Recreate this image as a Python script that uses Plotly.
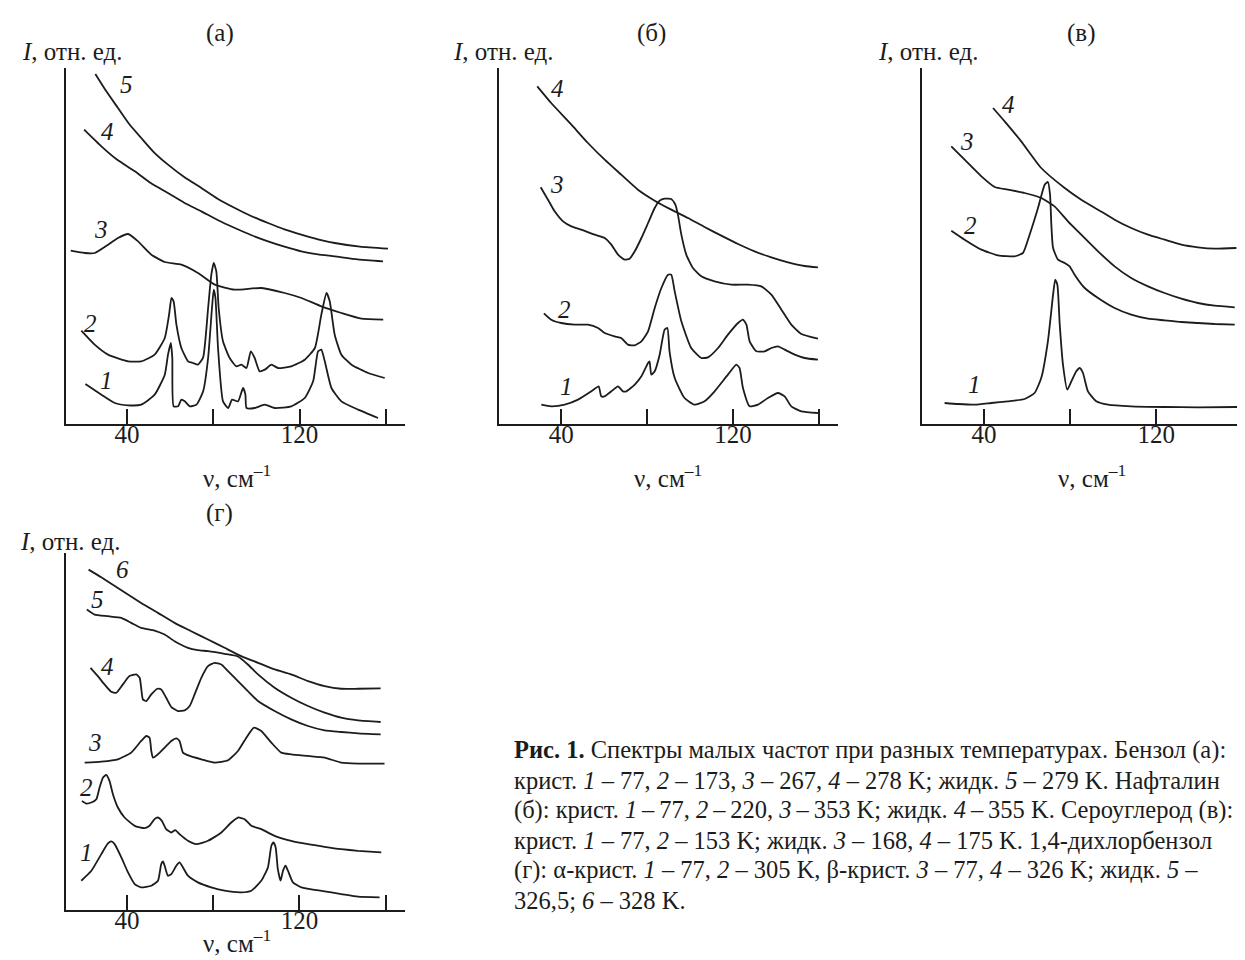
import plotly.graph_objects as go

W, H = 1245, 960
FONT = "Liberation Serif"
INK = "#1c1c1c"

# ---------------- Panel (а): benzene ----------------
a1_nu = [20.7, 28.1, 34.3, 40.5, 46.6, 52.8, 57.5, 59.0, 60.3, 61.0, 61.6, 63.7, 65.2, 66.8, 69.1, 72.2, 75.3, 77.6,
         79.4, 80.2, 81.0, 82.2, 84.5, 86.9, 88.7, 91.5, 93.8, 94.9, 95.4, 99.2, 103.9, 108.5, 116.2, 122.4, 126.3,
         128.6, 130.1, 131.7, 134.8, 139.4, 147.2, 156.4]
a1_I = [120, 88, 63, 56, 58, 88, 148, 208, 243, 198, 53, 53, 73, 68, 53, 58, 98, 198,
        348, 403, 378, 228, 68, 48, 73, 68, 108, 88, 48, 48, 58, 48, 53, 78, 128,
        218, 223, 188, 108, 68, 43, 18]
a2_nu = [18.8, 25.0, 31.2, 40.5, 46.6, 52.8, 57.5, 59.5, 60.6, 61.6, 62.9, 65.2, 68.3, 70.6, 72.9, 75.3, 77.6, 79.1,
         80.2, 81.4, 82.5, 84.5, 87.6, 90.7, 93.0, 95.4, 97.4, 99.2, 101.5, 103.9, 107.0, 110.0, 116.2, 122.4, 127.1,
         130.1, 132.5, 134.0, 136.3, 139.4, 144.1, 151.8, 159.5]
a2_I = [280, 238, 208, 188, 188, 208, 258, 328, 378, 368, 298, 228, 188, 183, 178, 200, 348, 448,
        483, 458, 348, 248, 198, 173, 178, 168, 218, 198, 158, 163, 178, 168, 173, 193, 228,
        328, 393, 368, 268, 208, 178, 153, 138]
a3_nu = [13.9, 20.4, 25.0, 31.2, 35.8, 40.5, 45.1, 51.3, 57.5, 65.2, 72.9, 80.7, 89.9, 102.3, 113.1, 120.9, 130.1,
         139.4, 148.7, 158.8]
a3_I = [520, 513, 513, 538, 558, 570, 548, 508, 486, 478, 453, 418, 403, 408, 393, 378, 353, 333, 316, 313]
a4_nu = [20.1, 28.1, 35.0, 43.6, 51.0, 59.0, 66.5, 74.5, 82.0, 90.0, 97.5, 105.4, 113.0, 120.8, 128.5, 136.3, 147.0,
         158.7]
a4_I = [883, 833, 795, 758, 723, 693, 664, 638, 612, 588, 567, 548, 532, 518, 509, 503, 494, 488]
a5_nu = [25.3, 30.4, 35.8, 41.0, 46.6, 52.5, 59.0, 66.5, 74.5, 82.0, 90.0, 97.5, 105.4, 113.0, 120.8, 128.5, 136.3,
         148.0, 161.0]
a5_I = [1050, 998, 948, 900, 858, 815, 778, 741, 708, 676, 648, 624, 603, 584, 568, 554, 543, 532, 526]

# ---------------- Panel (б): naphthalene ----------------
b1_nu = [30.7, 35.3, 41.6, 47.8, 54.0, 57.4, 58.6, 60.2, 63.3, 66.4, 68.7, 70.3, 74.2, 77.3, 80.4, 81.1, 81.9, 83.5,
         85.8, 88.1, 89.4, 90.4, 92.8, 97.4, 102.1, 106.7, 111.4, 117.6, 121.5, 123.0, 124.6, 127.7, 131.6, 136.2,
         140.9, 144.0, 147.1, 151.8, 159.5]
b1_I = [58, 53, 58, 73, 98, 113, 83, 83, 98, 113, 98, 98, 118, 143, 183, 188, 148, 158,
        208, 283, 288, 218, 138, 78, 58, 68, 98, 148, 178, 168, 108, 53, 58, 78,
        93, 83, 53, 38, 33]
b2_nu = [31.9, 35.3, 40.0, 46.2, 52.4, 57.1, 60.2, 64.8, 67.9, 71.0, 74.2, 77.3, 80.4, 83.5, 86.6, 89.7, 91.2, 92.8,
         95.9, 100.5, 105.2, 108.3, 113.0, 117.6, 122.3, 124.6, 126.2, 127.7, 130.8, 134.7, 137.8, 140.9, 144.0,
         148.7, 153.3, 159.5]
b2_I = [332, 313, 303, 298, 298, 288, 273, 263, 258, 238, 236, 248, 278, 348, 408, 448, 448, 398,
        308, 228, 198, 200, 228, 268, 303, 313, 298, 248, 218, 218, 228, 233, 223,
        208, 198, 193]
b3_nu = [30.4, 33.8, 36.9, 40.8, 44.7, 49.3, 55.5, 60.2, 63.3, 66.4, 69.5, 71.8, 74.2, 77.3, 80.4, 83.5, 85.8, 88.1,
         91.2, 93.1, 94.3, 95.9, 98.2, 101.3, 105.2, 111.4, 119.2, 126.9, 133.1, 137.8, 142.5, 147.1, 151.8, 159.5]
b3_I = [710, 673, 638, 608, 593, 583, 568, 558, 538, 508, 493, 496, 518, 558, 603, 648, 670, 676,
        675, 658, 628, 568, 508, 468, 443, 428, 418, 418, 413, 388, 343, 298, 270, 256]
b4_nu = [28.8, 35.3, 44.7, 52.4, 60.2, 67.9, 75.7, 83.5, 91.2, 99.0, 106.7, 114.5, 122.3, 130.0, 137.8, 145.6, 153.3,
         159.5]
b4_I = [1013, 963, 898, 843, 793, 748, 703, 670, 643, 618, 591, 565, 540, 518, 500, 485, 474, 470]

# ---------------- Panel (в): carbon disulfide ----------------
c1_nu = [21.7, 27.9, 35.7, 43.4, 51.1, 58.9, 63.5, 66.6, 69.7, 72.1, 73.1, 74.1, 75.2, 76.7, 78.7, 80.6, 82.9, 84.5,
         86.0, 88.3, 92.2, 97.6, 108.4, 123.9, 139.4, 158.0]
c1_I = [63, 60, 58, 63, 68, 75, 93, 138, 248, 388, 433, 418, 298, 178, 103, 128, 158, 168,
        153, 98, 68, 58, 53, 51, 50, 51]
c2_nu = [24.8, 31.0, 38.8, 46.5, 54.2, 58.1, 61.2, 65.1, 68.2, 69.7, 70.7, 71.3, 72.1, 74.4, 77.5, 79.8, 82.1, 86.8,
         93.0, 100.7, 108.4, 116.2, 123.9, 131.7, 139.4, 147.2, 156.5]
c2_I = [580, 553, 523, 506, 503, 513, 568, 648, 718, 726, 688, 598, 528, 493, 483, 473, 448, 408,
        378, 348, 328, 316, 311, 306, 303, 300, 298]
c3_nu = [24.8, 31.0, 38.8, 45.0, 51.1, 58.9, 66.6, 72.8, 79.0, 85.2, 93.0, 100.7, 108.4, 116.2, 123.9, 131.7, 139.4,
         147.2, 156.5]
c3_I = [833, 793, 743, 711, 703, 693, 678, 653, 608, 568, 518, 473, 438, 413, 393, 376, 363, 355, 350]
c4_nu = [44.2, 49.6, 57.3, 66.6, 77.5, 85.2, 93.0, 100.7, 108.4, 116.2, 123.9, 131.7, 139.4, 147.2, 157.3]
c4_I = [948, 908, 848, 768, 708, 673, 643, 613, 588, 568, 553, 538, 530, 526, 528]

# ---------------- Panel (г): 1,4-dichlorobenzene ----------------
d1_nu = [18.8, 23.5, 28.1, 31.2, 32.7, 34.3, 37.4, 40.5, 43.6, 46.6, 51.3, 54.4, 55.9, 56.7, 57.5, 59.0, 60.6, 62.9,
         64.4, 66.0, 68.3, 72.9, 79.1, 85.3, 93.0, 97.7, 102.3, 105.4, 107.0, 108.0, 109.0, 110.0, 111.3, 112.4,
         113.6, 114.7, 117.0, 120.9, 131.7, 139.4, 147.2, 157.2]
d1_I = [88, 118, 168, 200, 206, 198, 158, 113, 78, 68, 73, 88, 138, 146, 133, 103, 108, 133,
        143, 128, 103, 83, 68, 58, 53, 58, 88, 128, 193, 203, 188, 123, 88, 118,
        133, 118, 83, 68, 56, 48, 40, 38]
d2_nu = [19.1, 21.1, 23.5, 25.8, 27.3, 28.9, 30.4, 31.9, 33.5, 35.8, 38.9, 43.6, 48.2, 50.5, 52.8, 54.4, 56.2, 58.2,
         60.6, 62.4, 64.4, 68.3, 72.2, 77.6, 83.8, 88.4, 91.5, 94.6, 97.7, 102.3, 108.5, 116.2, 124.0, 131.7, 139.4,
         147.2, 158.0]
d2_I = [328, 320, 323, 333, 368, 398, 406, 388, 348, 308, 278, 253, 246, 253, 273, 278, 268, 243,
        233, 240, 228, 208, 198, 208, 233, 263, 278, 273, 253, 243, 223, 208, 198, 190, 183,
        178, 173]
d3_nu = [20.4, 28.1, 35.8, 42.0, 46.6, 49.0, 50.5, 51.3, 52.1, 54.4, 57.5, 60.6, 62.9, 64.4, 66.0, 69.1, 74.5, 80.7,
         86.9, 91.5, 95.4, 98.9, 102.3, 107.0, 111.6, 116.2, 124.0, 131.7, 139.4, 147.2, 159.5]
d3_I = [443, 446, 453, 473, 508, 523, 518, 478, 458, 468, 488, 508, 516, 508, 473, 463, 453, 443,
        450, 478, 518, 548, 538, 503, 473, 468, 463, 458, 443, 440, 440]
d4_nu = [23.1, 26.5, 29.6, 32.7, 35.1, 38.1, 41.2, 44.3, 45.9, 46.6, 47.4, 49.0, 51.3, 54.1, 55.9, 58.2, 60.6, 63.7,
         66.8, 69.1, 71.4, 74.5, 77.6, 80.7, 83.8, 86.9, 91.5, 96.1, 100.8, 108.5, 116.2, 124.0, 131.7, 139.4, 147.2,
         157.7]
d4_I = [728, 703, 678, 656, 653, 678, 703, 708, 698, 668, 633, 628, 648, 665, 663, 638, 610, 598,
        600, 613, 648, 698, 733, 743, 738, 718, 688, 658, 628, 598, 573, 553, 540, 535, 531,
        528]
d5_nu = [21.4, 25.0, 31.2, 37.4, 42.0, 46.6, 52.8, 57.5, 62.1, 68.3, 72.9, 77.6, 85.3, 91.5, 96.1, 100.8, 108.5, 116.2,
         124.0, 131.7, 139.4, 147.2, 157.7]
d5_I = [903, 888, 883, 878, 863, 848, 840, 828, 808, 788, 781, 778, 770, 762, 738, 708, 668, 638,
        613, 593, 578, 570, 565]
d6_nu = [22.2, 28.1, 35.8, 46.6, 54.4, 62.1, 69.8, 77.6, 85.3, 93.0, 100.8, 108.5, 116.2, 124.0, 131.7, 139.4, 147.2,
         157.7]
d6_I = [1023, 1000, 968, 923, 893, 863, 838, 813, 788, 763, 743, 723, 708, 688, 673, 665, 665, 666]

# curve-number labels: (number, nu, I)
a_labels = [("5", 39.7, 1018), ("4", 30.9, 878), ("3", 28.1, 583), ("2", 23.0, 303), ("1", 30.4, 132)]
b_labels = [("4", 38.1, 1008), ("3", 38.1, 718), ("2", 41.6, 343), ("1", 42.3, 113)]
c_labels = [("4", 51.5, 958), ("3", 31.9, 848), ("2", 33.7, 596), ("1", 35.7, 118)]
d_labels = [("6", 38.1, 1023), ("5", 26.5, 933), ("4", 31.2, 733), ("3", 25.3, 503), ("2", 21.1, 368),
            ("1", 21.4, 173)]

major_ticks = [40, 120]
major_text = ["40", "120"]
minor_ticks = [80, 160]

panels = [
    dict(name="(а)", ax="", xdom=(58, 397), xr=(11.7, 168.9), ytop=60, ybot=416, yr=(0, 1068),
         curves=[(a1_nu, a1_I), (a2_nu, a2_I), (a3_nu, a3_I), (a4_nu, a4_I), (a5_nu, a5_I)],
         labels=a_labels, title_xy=(212, 25), ylab_xy=(12, 43), xt_xy=(229, 468), xt_anchor="middle"),
    dict(name="(б)", ax="2", xdom=(490.7, 830), xr=(10.85, 168.85), ytop=60, ybot=416, yr=(0, 1068),
         curves=[(b1_nu, b1_I), (b2_nu, b2_I), (b3_nu, b3_I), (b4_nu, b4_I)],
         labels=b_labels, title_xy=(643, 25), ylab_xy=(443, 43), xt_xy=(660, 468), xt_anchor="middle"),
    dict(name="(в)", ax="3", xdom=(914, 1245), xr=(11.2, 165.0), ytop=60, ybot=416, yr=(0, 1068),
         curves=[(c1_nu, c1_I), (c2_nu, c2_I), (c3_nu, c3_I), (c4_nu, c4_I)],
         labels=c_labels, title_xy=(1073, 25), ylab_xy=(868, 43), xt_xy=(1084, 468), xt_anchor="middle"),
    dict(name="(г)", ax="4", xdom=(57.5, 397), xr=(11.5, 169.0), ytop=545, ybot=902, yr=(0, 1073),
         curves=[(d1_nu, d1_I), (d2_nu, d2_I), (d3_nu, d3_I), (d4_nu, d4_I), (d5_nu, d5_I), (d6_nu, d6_I)],
         labels=d_labels, title_xy=(211, 505), ylab_xy=(10, 533), xt_xy=(229, 951), xt_anchor="bottom"),
]

fig = go.Figure()
annotations = []


def px(x):
    return x / W


def py(y):
    return 1 - y / H


for p in panels:
    xa = "x" + p["ax"]
    ya = "y" + p["ax"]
    for nu, inten in p["curves"]:
        fig.add_trace(go.Scatter(x=nu, y=inten, xaxis=xa, yaxis=ya, mode="lines",
                                 line=dict(color=INK, width=1.8, shape="spline", smoothing=0.5),
                                 hoverinfo="skip", showlegend=False))
    for num, lx, ly in p["labels"]:
        annotations.append(dict(x=lx, y=ly, xref=xa, yref=ya, text="<i>%s</i>" % num, showarrow=False,
                                font=dict(family=FONT, size=25, color=INK), xanchor="center", yanchor="middle"))
    annotations.append(dict(x=px(p["title_xy"][0]), y=py(p["title_xy"][1]), xref="paper", yref="paper",
                            text=p["name"], showarrow=False, font=dict(family=FONT, size=25, color=INK),
                            xanchor="center", yanchor="middle"))
    annotations.append(dict(x=px(p["ylab_xy"][0]), y=py(p["ylab_xy"][1]), xref="paper", yref="paper",
                            text="<i>I</i>, отн. ед.", showarrow=False,
                            font=dict(family=FONT, size=25, color=INK), xanchor="left", yanchor="middle"))
    annotations.append(dict(x=px(p["xt_xy"][0]), y=py(p["xt_xy"][1]), xref="paper", yref="paper",
                            text="ν, см<sup>–1</sup>", showarrow=False,
                            font=dict(family=FONT, size=25, color=INK), xanchor="center",
                            yanchor=p["xt_anchor"]))
    xkey = "xaxis" + p["ax"]
    ykey = "yaxis" + p["ax"]
    fig.update_layout(**{
        xkey: dict(domain=[px(p["xdom"][0]), min(1.0, px(p["xdom"][1]))], range=list(p["xr"]), anchor=ya,
                   showgrid=False, zeroline=False, showline=True, linecolor=INK, linewidth=2,
                   ticks="inside", ticklen=15, tickwidth=2, tickcolor=INK,
                   tickmode="array", tickvals=major_ticks, ticktext=major_text,
                   ticklabelstandoff=-13,
                   minor=dict(tickmode="array", tickvals=minor_ticks, ticks="inside", ticklen=15,
                              tickwidth=2, tickcolor=INK, showgrid=False),
                   tickfont=dict(family=FONT, size=25, color=INK)),
        ykey: dict(domain=[py(p["ybot"]), py(p["ytop"])], range=list(p["yr"]), anchor=xa,
                   showgrid=False, zeroline=False, showline=True, linecolor=INK, linewidth=2,
                   ticks="", showticklabels=False),
    })

TS = "\u2009"  # thin space, used where the justified caption line is tight
caption_lines = [
    "<b>Рис. 1.</b> Спектры малых частот при разных температурах. Бензол (а):",
    "крист. <i>1</i> – 77, <i>2</i> – 173, <i>3</i> – 267, <i>4</i> – 278 K; жидк. <i>5</i> – 279 K. Нафталин",
    "(б): крист. <i>1</i>" + TS + "–" + TS + "77, <i>2</i>" + TS + "–" + TS + "220, <i>3</i>" + TS + "–" + TS
    + "353 K; жидк. <i>4</i>" + TS + "–" + TS + "355 K. Сероуглерод (в):",
    "крист. <i>1</i> – 77, <i>2</i> – 153 K; жидк. <i>3</i> – 168, <i>4</i> – 175 K. 1,4-дихлорбензол",
    "(г): α-крист. <i>1</i> – 77, <i>2</i> – 305 K, β-крист. <i>3</i> – 77, <i>4</i> – 326 K; жидк. <i>5</i> –",
    "326,5; <i>6</i> – 328 K.",
]
for i, line in enumerate(caption_lines):
    annotations.append(dict(x=px(504), y=py(742 + 30 * i), xref="paper", yref="paper", text=line,
                            showarrow=False, font=dict(family=FONT, size=24.5, color=INK),
                            xanchor="left", yanchor="middle", align="left"))

fig.update_layout(width=W, height=H, margin=dict(l=0, r=0, t=0, b=0),
                  paper_bgcolor="white", plot_bgcolor="white", showlegend=False,
                  annotations=annotations)

fig.write_html("out.html")
